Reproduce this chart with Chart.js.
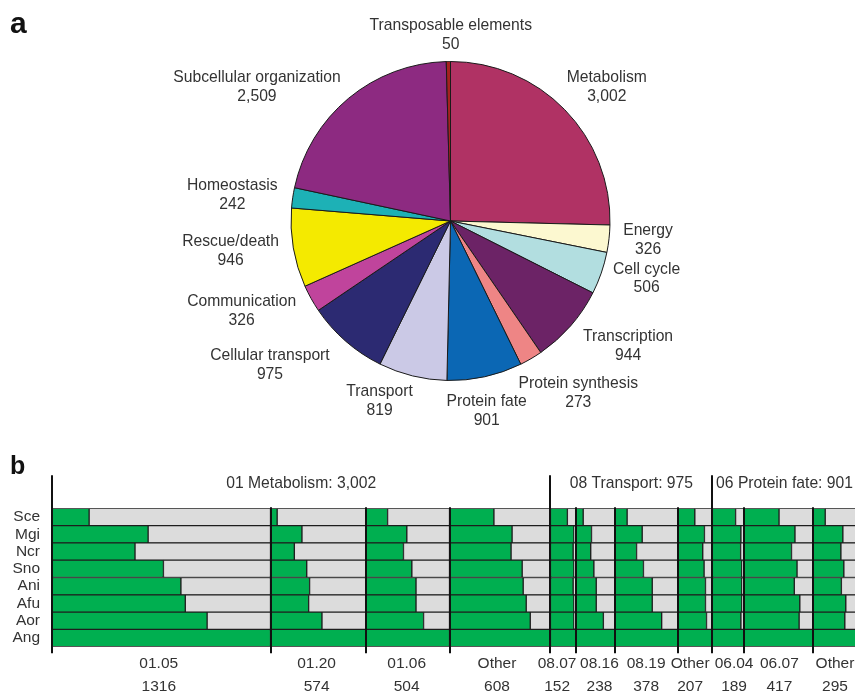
<!DOCTYPE html>
<html>
<head>
<meta charset="utf-8">
<script src="https://cdn.jsdelivr.net/npm/chart.js@4/dist/chart.umd.min.js"></script>
<style>
html,body{margin:0;padding:0;background:#fff;}
#wrap{position:relative;width:855px;height:694px;overflow:hidden;background:#fff;}
#pie{position:absolute;left:0;top:0;}
#bars{position:absolute;left:0;top:440px;}
.panel{position:absolute;font-family:"Liberation Sans",Arial,sans-serif;font-weight:bold;color:#111;line-height:1;}
</style>
</head>
<body>
<div id="wrap">
  <canvas id="pie" width="855" height="440"></canvas>
  <canvas id="bars" width="855" height="254"></canvas>
  <div class="panel" style="left:10px;top:8px;font-size:30px;">a</div>
  <div class="panel" style="left:10px;top:453px;font-size:25px;">b</div>
</div>
<script>
// ---------------- DATA: panel a (pie) ----------------
const pieCategories = ['Metabolism','Energy','Cell cycle','Transcription','Protein synthesis','Protein fate',
  'Transport','Cellular transport','Communication','Rescue/death','Homeostasis','Subcellular organization','Transposable elements'];
const pieValues = [3002, 326, 506, 944, 273, 901, 819, 975, 326, 946, 242, 2509, 50];

// ---------------- DATA: panel b (matrix) ----------------
const species = ['Sce','Mgi','Ncr','Sno','Ani','Afu','Aor','Ang'];
const columnLabels = ['01.05','01.20','01.06','Other','08.07','08.16','08.19','Other','06.04','06.07','Other'];
const columnCounts = [1316, 574, 504, 608, 152, 238, 378, 207, 189, 417, 295];
const groupTitles = ['01 Metabolism: 3,002','08 Transport: 975','06 Protein fate: 901'];
const groupColumnCounts = [4, 4, 3];

// fraction of each column that is green, per species (Sce..Ang)
const green_0105    = [0.17, 0.44, 0.38, 0.51, 0.59, 0.61, 0.71, 1];
const green_0120    = [0.07, 0.33, 0.25, 0.38, 0.41, 0.40, 0.54, 1];
const green_0106    = [0.26, 0.49, 0.45, 0.55, 0.60, 0.60, 0.69, 1];
const green_01other = [0.44, 0.62, 0.61, 0.72, 0.73, 0.76, 0.80, 1];
const green_0807    = [0.67, 0.93, 0.90, 0.93, 0.90, 0.93, 0.93, 1];
const green_0816    = [0.19, 0.40, 0.38, 0.46, 0.52, 0.52, 0.70, 1];
const green_0819    = [0.19, 0.43, 0.34, 0.45, 0.59, 0.59, 0.74, 1];
const green_08other = [0.49, 0.77, 0.72, 0.76, 0.80, 0.80, 0.83, 1];
const green_0604    = [0.74, 0.91, 0.90, 0.94, 0.94, 0.94, 0.91, 1];
const green_0607    = [0.51, 0.74, 0.69, 0.77, 0.73, 0.81, 0.80, 1];
const green_06other = [0.25, 0.61, 0.57, 0.63, 0.58, 0.67, 0.65, 1];
const greenFractions = [green_0105, green_0120, green_0106, green_01other, green_0807, green_0816,
  green_0819, green_08other, green_0604, green_0607, green_06other];

// ---------------- STYLE ----------------
const FONT = '"Liberation Sans", Arial, sans-serif';
const TEXT = '#333';
const pieColors = ['#B03264','#FCF8D0','#B2DEE0','#6C2366','#EE8585','#0B67B4',
  '#CBC9E6','#2C2A72','#C0449C','#F4EA00','#1DB1B6','#8D2A81','#A5211F'];
const LABEL_GAP = 45.5;
const LINE_H = 18.8;
const labelNudge = [[9.5,9.7],[-6.2,-3.4],[2.3,-9.3],[23.2,-9.5],[24.3,-4.6],[-7.9,-10.3],
  [-22.2,-18.9],[-45.8,-10.1],[-29.7,-9.8],[-17.9,-4.7],[-15.4,4.3],[-62.5,23.6],[3,19]];
// horizontal pixel nudges of the column labels (to avoid overlaps, as in the original)
const colLabelNudge = [-2.5,-1.6,-1,-3,-6,4,-0.5,-5,6,1,-2.5];
const GREEN = '#00AF50', GRAY = '#DCDCDC';
const X_MAX = 4836;

// ---------------- PIE ----------------
const pieLabelPlugin = {
  id: 'pieLabels',
  afterDatasetsDraw(chart) {
    const ctx = chart.ctx;
    const meta = chart.getDatasetMeta(0);
    ctx.save();
    ctx.font = '15.7px ' + FONT;
    ctx.fillStyle = TEXT;
    ctx.textAlign = 'center';
    ctx.textBaseline = 'middle';
    meta.data.forEach((arc, i) => {
      const p = arc.getProps(['x','y','startAngle','endAngle','outerRadius'], true);
      const mid = (p.startAngle + p.endAngle) / 2;
      const r = p.outerRadius + LABEL_GAP;
      const cx = p.x + Math.cos(mid) * r + labelNudge[i][0];
      const cy = p.y + Math.sin(mid) * r + labelNudge[i][1];
      ctx.fillText(pieCategories[i], cx, cy - LINE_H / 2);
      ctx.fillText(pieValues[i].toLocaleString('en-US'), cx, cy + LINE_H / 2);
    });
    ctx.restore();
  }
};

new Chart(document.getElementById('pie'), {
  type: 'pie',
  data: {
    labels: pieCategories,
    datasets: [{ data: pieValues, backgroundColor: pieColors, borderColor: '#1a1a1a', borderWidth: 1 }]
  },
  options: {
    responsive: false,
    animation: false,
    devicePixelRatio: 1,
    layout: { padding: { left: 290.5, right: 244.5, top: 61, bottom: 59 } },
    plugins: { legend: { display: false }, tooltip: { enabled: false } }
  },
  plugins: [pieLabelPlugin]
});

// ---------------- BARS ----------------
const boundaries = [0];
columnCounts.forEach(c => boundaries.push(boundaries[boundaries.length - 1] + c));
const centers = columnCounts.map((c, i) => boundaries[i] + c / 2);
const groupStartIdx = [0];
groupColumnCounts.forEach(n => groupStartIdx.push(groupStartIdx[groupStartIdx.length - 1] + n));

const barData = [];
columnCounts.forEach((cnt, c) => {
  const s = boundaries[c], e = boundaries[c + 1];
  species.forEach((sp, r) => {
    const g = s + cnt * greenFractions[c][r];
    barData.push({ y: sp, x: [s, g], kind: 'g' });
    if (g < e) barData.push({ y: sp, x: [g, e], kind: 'r' });
  });
});

const dividerPlugin = {
  id: 'dividers',
  afterDatasetsDraw(chart) {
    const { ctx, chartArea, scales: { x } } = chart;
    ctx.save();
    ctx.strokeStyle = '#111';
    ctx.lineWidth = 2;
    boundaries.forEach((b, i) => {
      const px = Math.round(x.getPixelForValue(b));
      const isGroup = groupStartIdx.indexOf(i) >= 0;
      const top = isGroup ? chartArea.top - 33 : chartArea.top - 1;
      ctx.beginPath();
      ctx.moveTo(px, top);
      ctx.lineTo(px, chartArea.bottom + 6.5);
      ctx.stroke();
    });
    ctx.font = '15.7px ' + FONT;
    ctx.fillStyle = TEXT;
    ctx.textAlign = 'center';
    ctx.textBaseline = 'middle';
    groupTitles.forEach((t, g) => {
      const a = boundaries[groupStartIdx[g]], b = boundaries[groupStartIdx[g + 1]];
      let cx = x.getPixelForValue((a + b) / 2);
      const w = ctx.measureText(t).width;
      cx = Math.min(cx, chart.width - w / 2 - 2);
      ctx.fillText(t, cx, chartArea.top - 25);
    });
    // column labels under the matrix
    ctx.font = '15.5px ' + FONT;
    centers.forEach((v, i) => {
      const cx = x.getPixelForValue(v) + colLabelNudge[i];
      ctx.fillText(columnLabels[i], cx, chartArea.bottom + 16.6);
      ctx.fillText(String(columnCounts[i]), cx, chartArea.bottom + 40);
    });
    ctx.restore();
  }
};

new Chart(document.getElementById('bars'), {
  type: 'bar',
  data: {
    labels: species,
    datasets: [{
      data: barData,
      backgroundColor: c => (c.raw && c.raw.kind === 'g') ? GREEN : GRAY,
      borderColor: '#1e1e1e',
      borderWidth: 1,
      borderSkipped: false,
      barPercentage: 1,
      categoryPercentage: 1
    }]
  },
  options: {
    indexAxis: 'y',
    responsive: false,
    animation: false,
    devicePixelRatio: 1,
    layout: { padding: { top: 68.3, right: 0, bottom: 0, left: 0 } },
    plugins: { legend: { display: false }, tooltip: { enabled: false } },
    scales: {
      x: {
        type: 'linear',
        position: 'bottom',
        min: 0,
        max: X_MAX,
        grid: { display: false, drawTicks: false },
        border: { display: false },
        afterBuildTicks: s => { s.ticks = centers.map(v => ({ value: v })); },
        afterFit: s => { s.height = 47.3; s.paddingLeft = 0; s.paddingRight = 0; },
        ticks: { display: false }
      },
      y: {
        type: 'category',
        labels: species,
        grid: { display: false, drawTicks: false },
        border: { display: false },
        afterFit: s => { s.width = 52; s.paddingTop = 0; s.paddingBottom = 0; },
        ticks: { autoSkip: false, padding: 12, color: TEXT, font: { family: FONT, size: 15.5, lineHeight: 1.1 } }
      }
    }
  },
  plugins: [dividerPlugin]
});
</script>
</body>
</html>
